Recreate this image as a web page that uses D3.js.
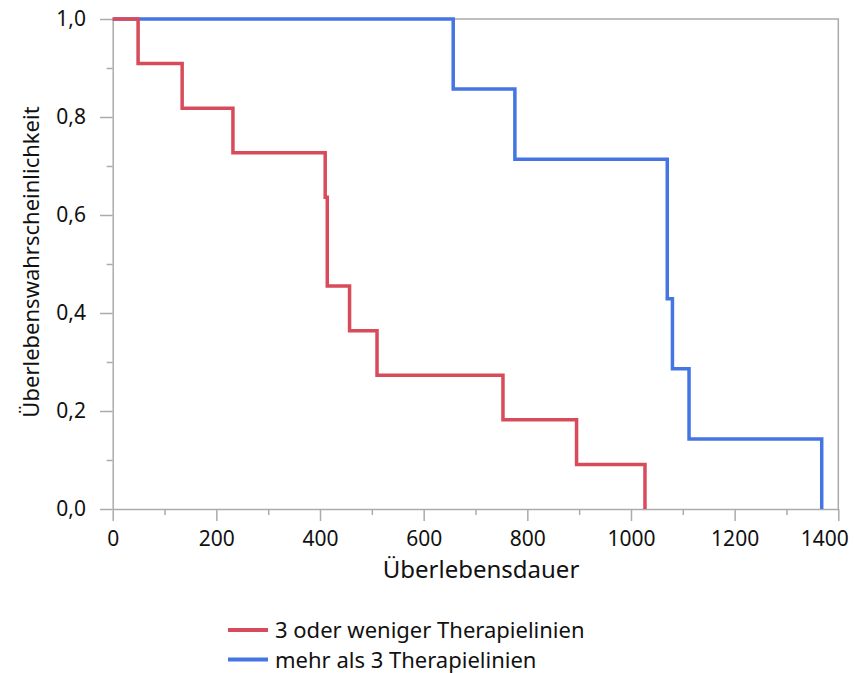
<!DOCTYPE html>
<html>
<head>
<meta charset="utf-8">
<script src="https://cdn.jsdelivr.net/npm/d3@7"></script>
<style>
  body { margin: 0; background: #fff; }
  svg text { font-family: "Noto Sans", "Open Sans", sans-serif; fill: #111; }
</style>
</head>
<body>
<svg id="chart" width="854" height="673"></svg>
<script>
// Kaplan–Meier step data: event times and survival after each event
const groupNames = ["3 oder weniger Therapielinien", "mehr als 3 Therapielinien"];
const groupColors = ["#d84b5b", "#4475e3"];

const redTimes = [0, 49, 134, 232, 410, 414, 457, 510, 753, 895, 1027];
const redSurv  = [1.0, 0.909, 0.818, 0.727, 0.636, 0.455, 0.364, 0.273, 0.182, 0.091, 0.0];

const blueTimes = [0, 657, 776, 1070, 1080, 1112, 1368];
const blueSurv  = [1.0, 0.857, 0.714, 0.429, 0.286, 0.143, 0.0];

const xTicks = [0, 200, 400, 600, 800, 1000, 1200, 1400];
const yTicks = [0, 0.2, 0.4, 0.6, 0.8, 1.0];

const svg = d3.select("#chart");
const plotLeft = 112.7, plotRight = 838.3, plotTop = 19, plotBottom = 509;

const x = d3.scaleLinear().domain([0, 1400]).range([plotLeft, plotRight]);
const y = d3.scaleLinear().domain([0, 1]).range([plotBottom, plotTop]);

const axisColor = "#ababab";
const fmtY = d => d.toFixed(1).replace(".", ",");

// frame (top and right)
svg.append("path")
  .attr("d", `M${plotLeft},${plotTop}H${plotRight}V${plotBottom}`)
  .attr("fill", "none").attr("stroke", axisColor).attr("stroke-width", 1.5);

// x axis with minor ticks
const xMinor = [100, 300, 500, 700, 900, 1100, 1300];
const gx = svg.append("g").attr("transform", `translate(0,${plotBottom})`)
  .call(d3.axisBottom(x).tickValues(xTicks).tickSize(12).tickSizeOuter(0).tickPadding(10).tickFormat(d3.format("d")));
// keep the last label inside the canvas
gx.selectAll(".tick text").filter(d => d === 1400).attr("dx", -14);
svg.append("g").attr("transform", `translate(0,${plotBottom})`)
  .call(d3.axisBottom(x).tickValues(xMinor).tickSize(6).tickFormat(""))
  .call(g => g.select(".domain").remove());

// y axis with minor ticks
const yMinor = [0.1, 0.3, 0.5, 0.7, 0.9];
svg.append("g").attr("transform", `translate(${plotLeft},0)`)
  .call(d3.axisLeft(y).tickValues(yTicks).tickSize(12.7).tickSizeOuter(0).tickPadding(14).tickFormat(fmtY));
svg.append("g").attr("transform", `translate(${plotLeft},0)`)
  .call(d3.axisLeft(y).tickValues(yMinor).tickSize(6).tickFormat(""))
  .call(g => g.select(".domain").remove());

svg.selectAll(".domain").attr("stroke", axisColor).attr("stroke-width", 1.5);
svg.selectAll(".tick line").attr("stroke", axisColor).attr("stroke-width", 1.5);
svg.selectAll(".tick text").attr("font-size", 21).attr("fill", "#111")
  .attr("font-family", "'Noto Sans', 'Open Sans', sans-serif");

// axis titles
svg.append("text").attr("x", 481).attr("y", 578)
  .attr("text-anchor", "middle").attr("font-size", 24).text("Überlebensdauer");
svg.append("text").attr("transform", `translate(39,262) rotate(-90)`)
  .attr("text-anchor", "middle").attr("font-size", 22).text("Überlebenswahrscheinlichkeit");

// survival step curves
const line = d3.line().x(d => x(d[0])).y(d => y(d[1])).curve(d3.curveStepAfter);
const series = [
  { times: blueTimes, surv: blueSurv, color: groupColors[1] },
  { times: redTimes, surv: redSurv, color: groupColors[0] }
];
series.forEach(s => {
  const pts = s.times.map((t, i) => [t, s.surv[i]]);
  svg.append("path").datum(pts)
    .attr("d", line)
    .attr("fill", "none")
    .attr("stroke", s.color)
    .attr("stroke-width", 3.5);
});

// legend
const legend = svg.append("g");
groupNames.forEach((name, i) => {
  const ly = 630 + i * 29.5;
  legend.append("line").attr("x1", 228).attr("x2", 268).attr("y1", ly).attr("y2", ly)
    .attr("stroke", groupColors[i]).attr("stroke-width", 4);
  legend.append("text").attr("x", 275).attr("y", ly + 8)
    .attr("font-size", 22).text(name);
});
</script>
</body>
</html>
